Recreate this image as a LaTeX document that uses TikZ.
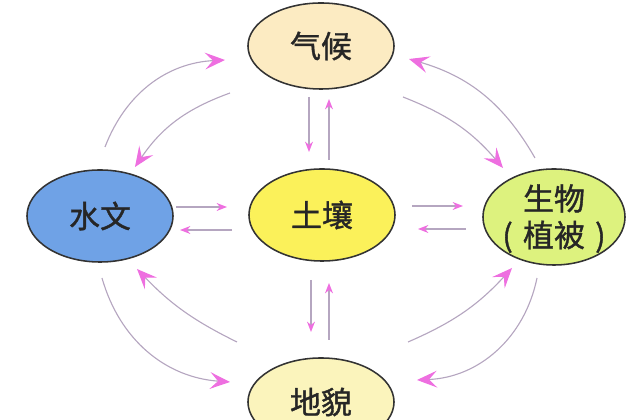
\documentclass[tikz,border=0pt]{standalone}
\usepackage{fontspec}
\setmainfont{Noto Sans CJK SC}[FakeBold=1.2]
\usepackage{xcolor}
\usetikzlibrary{shapes.geometric,arrows.meta,calc}
\definecolor{climatefill}{HTML}{FCEBC2}
\definecolor{soilfill}{HTML}{FBF15A}
\definecolor{hydrofill}{HTML}{6FA2E6}
\definecolor{biofill}{HTML}{DDF27E}
\definecolor{landfill}{HTML}{FBF4BC}
\definecolor{flowline}{HTML}{B5A6C0}
\definecolor{flowhead}{HTML}{EE6FE0}
\tikzstyle{factor} = [ellipse, draw=black!80, line width=1.1pt, minimum width=3.65cm,
    minimum height=2.3cm, inner sep=0pt, align=center, text=black!85,
    font=\fontsize{22}{27}\selectfont]
\tikzstyle{flow} = [-{Stealth[length=5mm, width=4.2mm, inset=2mm, color=flowhead]},
    line width=0.8pt, flowline]
\tikzstyle{link} = [-{Stealth[length=2.6mm, width=2mm, color=flowhead]},
    line width=0.8pt, flowline]

\begin{document}
\begin{tikzpicture}[x=0.025cm, y=0.025cm]
\useasboundingbox (0,0) rectangle (634,420);
\node[factor, fill=climatefill, minimum height=2.15cm] (climate) at (321,374) {气候};
\node[factor, fill=soilfill] (soil) at (322,205) {土壤};
\node[factor, fill=hydrofill] (hydro) at (100,204) {水文};
\node[factor, fill=biofill, minimum width=3.55cm, minimum height=2.4cm] (bio) at (554,203)
    {\makebox[1cm]{\smash{\raisebox{-8pt}{\begin{tabular}{@{}c@{}}生物\\[-1pt]
    \makebox[1em]{(}植被\makebox[1em]{)}\end{tabular}}}}};
\node[factor, fill=landfill, minimum height=2.2cm] (land) at (321,18) {地貌};
% curved links between outer factors
\draw[flow] ($(hydro)+(5,69)$) to[bend left=33] ($(climate)+(-96,-14)$);
\draw[flow] ($(climate)+(-91,-47)$) to[bend right=18] ($(hydro)+(35,49)$);
\draw[flow] ($(bio)+(-19,59)$) to[bend right=22] ($(climate)+(88,-13)$);
\draw[flow] ($(climate)+(82,-51)$) to[bend left=14] ($(bio)+(-51,49)$);
\draw[flow] ($(hydro)+(2,-62)$) to[bend right=35] ($(land)+(-91,20)$);
\draw[flow] ($(land)+(-84,60)$) to[bend left=10] ($(hydro)+(37,-53)$);
\draw[flow] ($(bio)+(-17,-61)$) to[bend left=38] ($(land)+(96,22)$);
\draw[flow] ($(land)+(87,60)$) to[bend right=12] ($(bio)+(-42,-51)$);
% straight links with soil
\draw[link] ($(hydro)+(76,9)$) -- ($(soil)+(-95,8)$);
\draw[link] ($(soil)+(-90,-15)$) -- ($(hydro)+(80,-14)$);
\draw[link] ($(soil)+(90,9)$) -- ($(bio)+(-91,11)$);
\draw[link] ($(bio)+(-88,-12)$) -- ($(soil)+(96,-14)$);
\draw[link] ($(climate)+(-12,-51)$) -- ($(soil)+(-13,63)$);
\draw[link] ($(soil)+(7,55)$) -- ($(climate)+(8,-53)$);
\draw[link] ($(soil)+(-11,-65)$) -- ($(land)+(-10,70)$);
\draw[link] ($(land)+(8,62)$) -- ($(soil)+(7,-68)$);
\end{tikzpicture}
\end{document}
